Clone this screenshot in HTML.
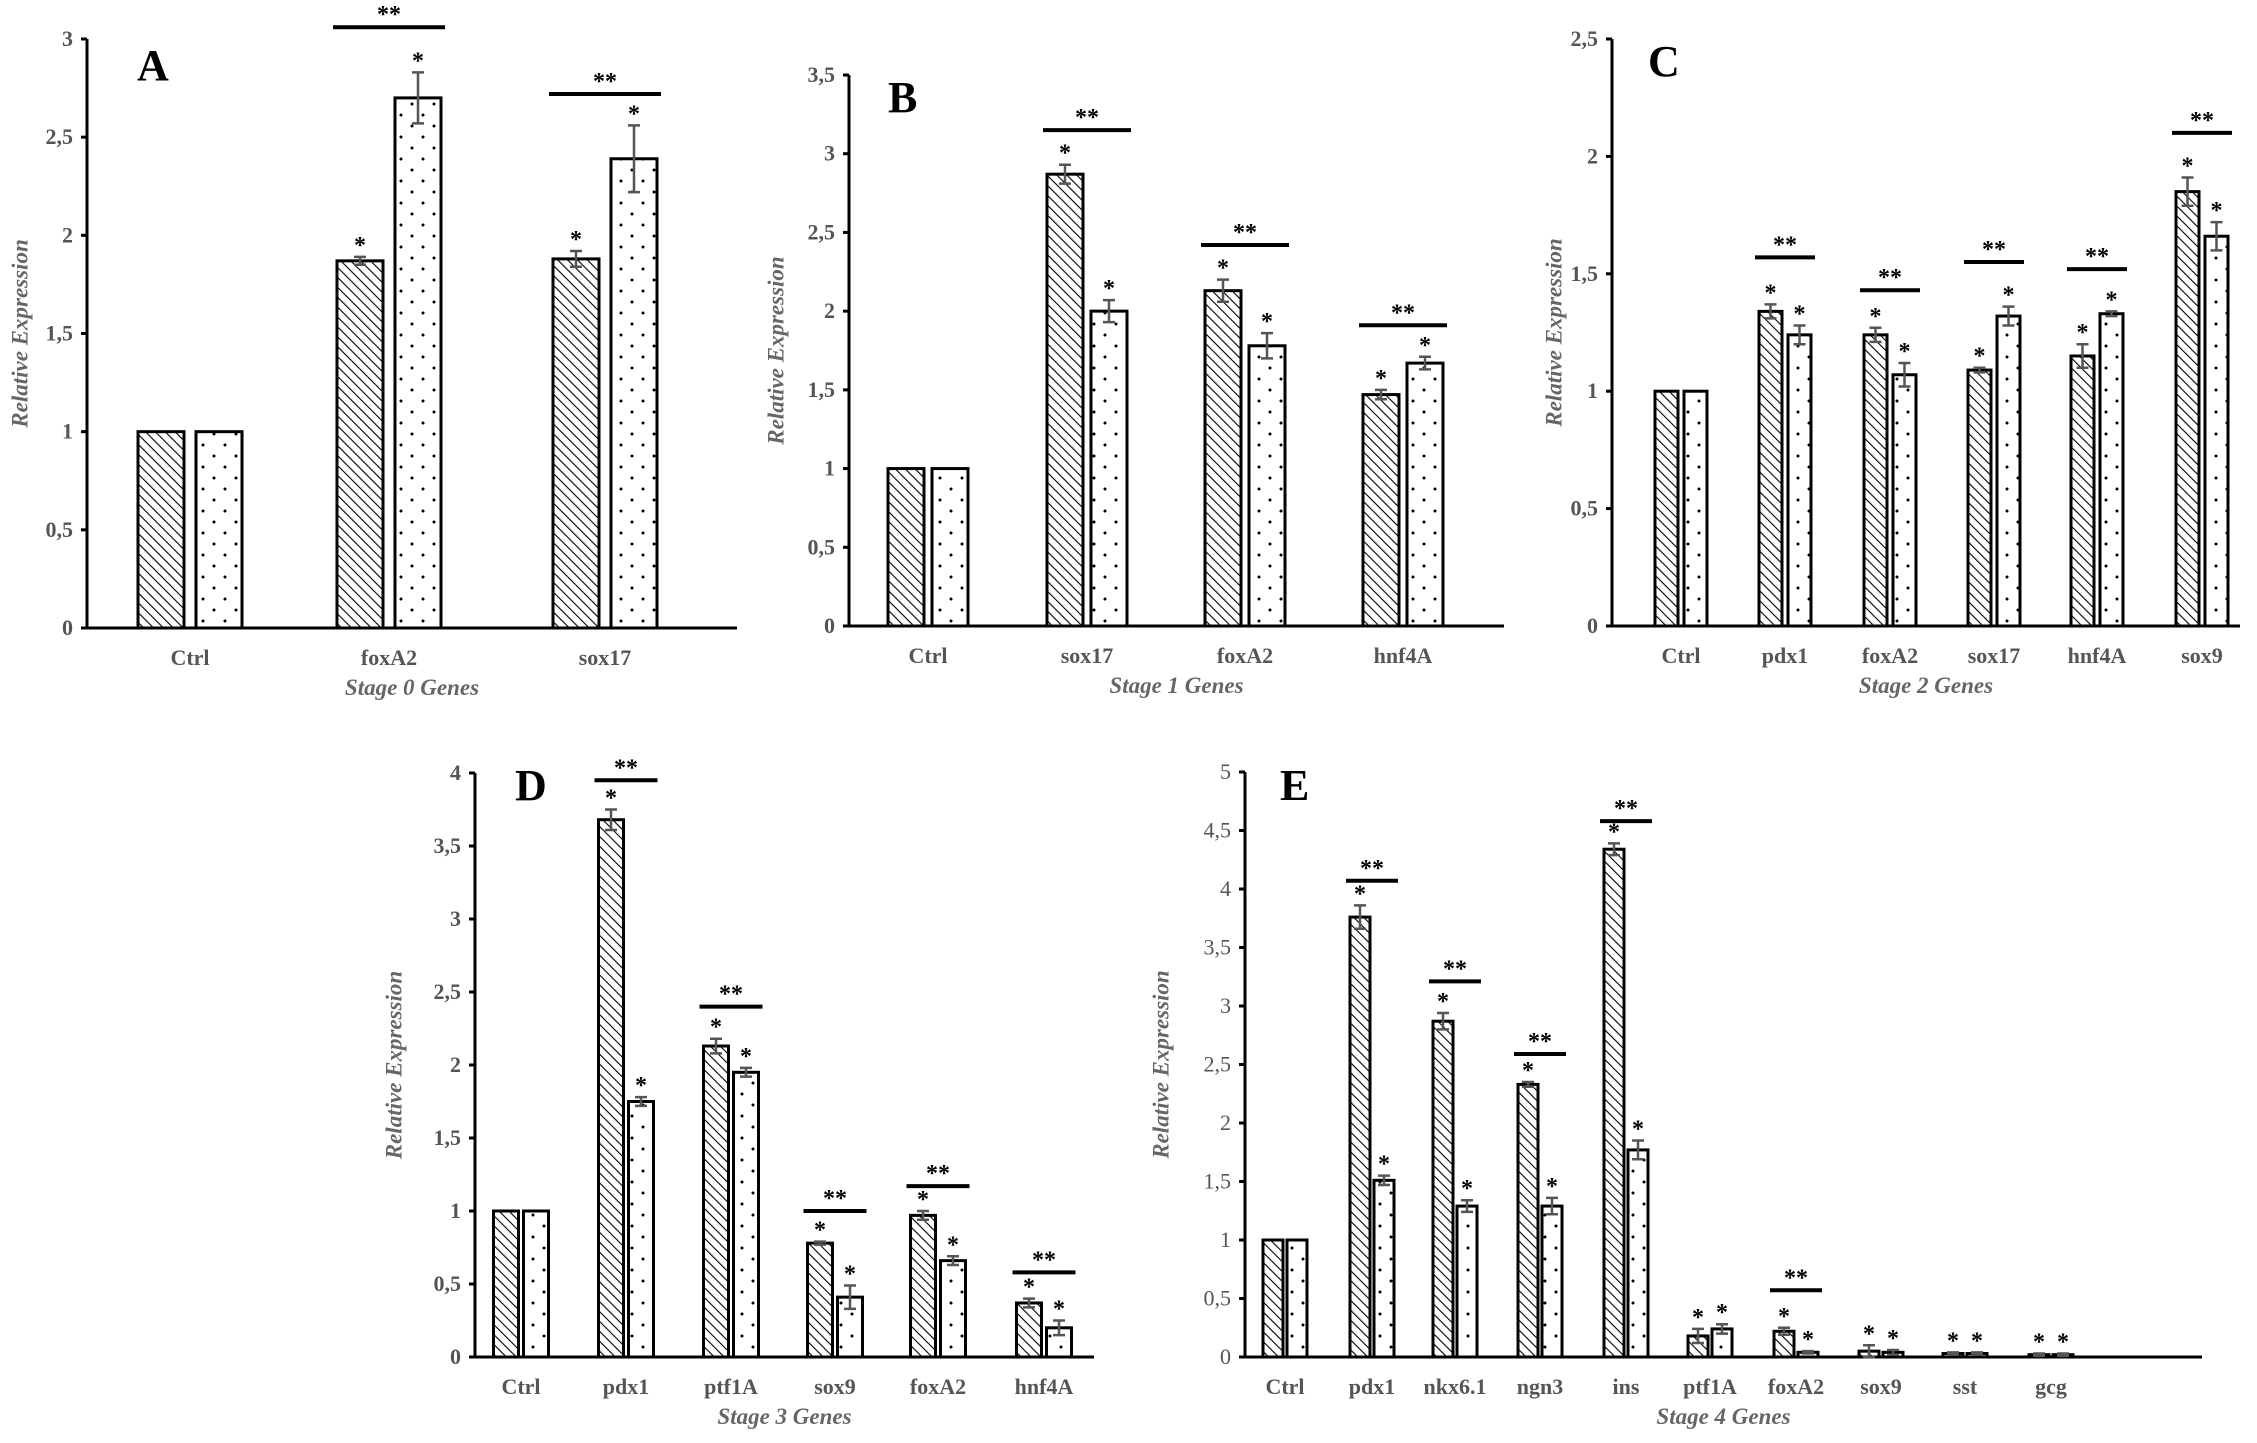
<!DOCTYPE html>
<html><head><meta charset="utf-8">
<style>
html,body{margin:0;padding:0;background:#fff;}
svg{display:block;}
</style></head>
<body>
<svg id="fig" width="2257" height="1443" viewBox="0 0 2257 1443" xmlns="http://www.w3.org/2000/svg">
<defs>
<pattern id="hatch" patternUnits="userSpaceOnUse" width="7" height="7" patternTransform="rotate(-45)">
<rect width="7" height="7" fill="#fff"/><line x1="0" y1="0" x2="0" y2="7" stroke="#000" stroke-width="2.2"/>
</pattern>
<pattern id="dots" patternUnits="userSpaceOnUse" width="22" height="22">
<rect width="22" height="22" fill="#fff"/><circle cx="5" cy="5" r="1.5" fill="#000"/><circle cx="16" cy="16" r="1.5" fill="#000"/>
</pattern>
</defs>
</svg>
<script>
// ---- data ----
const catsA = ["Ctrl","foxA2","sox17"];
const s1A = [1,1.87,1.88]; const e1A=[0,0.02,0.04];
const s2A = [1,2.70,2.39]; const e2A=[0,0.13,0.17];
const sigA = [null,3.06,2.72];

const catsB = ["Ctrl","sox17","foxA2","hnf4A"];
const s1B = [1,2.87,2.13,1.47]; const e1B=[0,0.06,0.07,0.03];
const s2B = [1,2.00,1.78,1.67]; const e2B=[0,0.07,0.08,0.04];
const sigB = [null,3.15,2.42,1.91];

const catsC = ["Ctrl","pdx1","foxA2","sox17","hnf4A","sox9"];
const s1C = [1,1.34,1.24,1.09,1.15,1.85]; const e1C=[0,0.03,0.03,0.01,0.05,0.06];
const s2C = [1,1.24,1.07,1.32,1.33,1.66]; const e2C=[0,0.04,0.05,0.04,0.01,0.06];
const sigC = [null,1.57,1.43,1.55,1.52,2.1];

const catsD = ["Ctrl","pdx1","ptf1A","sox9","foxA2","hnf4A"];
const s1D = [1,3.68,2.13,0.78,0.97,0.37]; const e1D=[0,0.07,0.05,0.01,0.03,0.03];
const s2D = [1,1.75,1.95,0.41,0.66,0.20]; const e2D=[0,0.03,0.03,0.08,0.03,0.05];
const sigD = [null,3.95,2.4,1.0,1.17,0.58];

const catsE = ["Ctrl","pdx1","nkx6.1","ngn3","ins","ptf1A","foxA2","sox9","sst","gcg"];
const s1E = [1,3.76,2.87,2.33,4.34,0.18,0.22,0.05,0.03,0.02]; const e1E=[0,0.10,0.07,0.02,0.05,0.06,0.03,0.05,0.01,0.01];
const s2E = [1,1.51,1.29,1.29,1.77,0.24,0.04,0.04,0.03,0.02]; const e2E=[0,0.04,0.05,0.07,0.08,0.04,0.01,0.02,0.01,0.01];
const sigE = [null,4.07,3.21,2.59,4.58,null,0.57,null,null,null];

const ticksA=["0","0,5","1","1,5","2","2,5","3"];
const ticksB=["0","0,5","1","1,5","2","2,5","3","3,5"];
const ticksC=["0","0,5","1","1,5","2","2,5"];
const ticksD=["0","0,5","1","1,5","2","2,5","3","3,5","4"];
const ticksE=["0","0,5","1","1,5","2","2,5","3","3,5","4","4,5","5"];

// ---- layout ----
const panels=[
 {id:"a",letter:"A",cats:catsA,s1:s1A,e1:e1A,s2:s2A,e2:e2A,sig:sigA,ticks:ticksA,max:3,ax:87,x1:737,y0:628,yt:39,centers:[190,389,605],bw:46,gap:12,title:"Stage 0 Genes",lx:137,ly:52,ylx:22,bold:true},
 {id:"b",letter:"B",cats:catsB,s1:s1B,e1:e1B,s2:s2B,e2:e2B,sig:sigB,ticks:ticksB,max:3.5,ax:849,x1:1504,y0:626,yt:75,centers:[928,1087,1245,1403],bw:36,gap:8,title:"Stage 1 Genes",lx:888,ly:84,ylx:778,bold:true},
 {id:"c",letter:"C",cats:catsC,s1:s1C,e1:e1C,s2:s2C,e2:e2C,sig:sigC,ticks:ticksC,max:2.5,ax:1612,x1:2240,y0:626,yt:39,centers:[1681,1785,1890,1994,2097,2202],bw:23,gap:6,title:"Stage 2 Genes",lx:1648,ly:48,ylx:1556,bold:true},
 {id:"d",letter:"D",cats:catsD,s1:s1D,e1:e1D,s2:s2D,e2:e2D,sig:sigD,ticks:ticksD,max:4,ax:475,x1:1094,y0:1357,yt:773,centers:[521,626,731,835,938,1044],bw:25,gap:5,title:"Stage 3 Genes",lx:515,ly:772,ylx:396,bold:true},
 {id:"e",letter:"E",cats:catsE,s1:s1E,e1:e1E,s2:s2E,e2:e2E,sig:sigE,ticks:ticksE,max:5,ax:1245,x1:2202,y0:1357,yt:772,centers:[1285,1372,1455,1540,1626,1710,1796,1881,1965,2051],bw:20,gap:4,title:"Stage 4 Genes",lx:1280,ly:772,ylx:1163,bold:false}
];
const NS="http://www.w3.org/2000/svg";
const svg=document.getElementById('fig');
function mk(tag,attrs,parent){const e=document.createElementNS(NS,tag);for(const k in attrs)e.setAttribute(k,attrs[k]);(parent||svg).appendChild(e);return e;}
const serif='"Liberation Serif", serif';
panels.forEach(p=>{
  const g=mk('g',{});
  
  
  const yS=v=>p.y0-(v/p.max)*(p.y0-p.yt);
  const ya=mk('line',{x1:p.ax,y1:p.yt,x2:p.ax,y2:p.y0,stroke:'#000','stroke-width':3},g);
   
  const xa=mk('line',{x1:p.ax-6,y1:p.y0,x2:p.x1,y2:p.y0,stroke:'#000','stroke-width':3},g);
   
  const step=p.max/(p.ticks.length-1);
  p.ticks.forEach((t,i)=>{
    const y=yS(i*step);
    mk('line',{x1:p.ax-6,y1:y,x2:p.ax,y2:y,stroke:'#000','stroke-width':3},g);
    const tx=mk('text',{x:p.ax-14,y:y+7,'text-anchor':'end','font-family':serif,'font-size':22,'font-weight':p.bold?'bold':'normal',fill:'#555'},g);
    tx.textContent=t;
     
  });
  const L=mk('text',{x:p.lx,y:p.ly+28,'font-family':serif,'font-size':44,'font-weight':'bold',fill:'#000'},g);
  L.textContent=p.letter;  
  const ymid=(p.y0+p.yt)/2;
  const yt=mk('text',{x:p.ylx,y:ymid,transform:`rotate(-90 ${p.ylx} ${ymid})`,'text-anchor':'middle','dominant-baseline':'middle','font-family':serif,'font-size':23,'font-weight':'bold','font-style':'italic',fill:'#666'},g);
  yt.textContent='Relative Expression';  
  const xm=(p.ax+p.x1)/2;
  const xt=mk('text',{x:xm,y:p.y0+67,'text-anchor':'middle','font-family':serif,'font-size':23,'font-weight':'bold','font-style':'italic',fill:'#666'},g);
  xt.textContent=p.title;  
  p.cats.forEach((c,i)=>{
    const cx=p.centers[i];
    const cl=mk('text',{x:cx,y:p.y0+37,'text-anchor':'middle','font-family':serif,'font-size':22,'font-weight':'bold',fill:'#555'},g);
    cl.textContent=c;  
    [[p.s1[i],p.e1[i],'url(#hatch)',-1],[p.s2[i],p.e2[i],'url(#dots)',1]].forEach(([v,e,fill,side],k)=>{
      const bx= side<0? cx-p.gap/2-p.bw : cx+p.gap/2;
      const top=yS(v);
      const r=mk('rect',{x:bx,y:top,width:p.bw,height:p.y0-top,fill:fill,stroke:'#000','stroke-width':3},g);
      
      
      const mx=bx+p.bw/2;
      if(e>0){
        const hi=yS(v+e), lo=yS(v-e);
        const eb=mk('path',{d:`M${mx-6},${hi}H${mx+6}M${mx},${hi}V${lo}M${mx-6},${lo}H${mx+6}`,stroke:'#555','stroke-width':2.5,fill:'none'},g);
         
      }
      if(i>0){
        const st=mk('text',{x:mx,y:yS(v+e)-4,'text-anchor':'middle','font-family':serif,'font-size':24,'font-weight':'bold',fill:'#000'},g);
        st.textContent='*';  
      }
    });
    if(p.sig[i]!=null){
      const sy=yS(p.sig[i]);
      const ln=mk('line',{x1:cx-p.gap/2-p.bw-4,y1:sy,x2:cx+p.gap/2+p.bw+4,y2:sy,stroke:'#000','stroke-width':4},g);
       
      const ss=mk('text',{x:cx,y:sy-5,'text-anchor':'middle','font-family':serif,'font-size':24,'font-weight':'bold',fill:'#000'},g);
      ss.textContent='**';  
    }
  });
});
</script>
</body></html>
